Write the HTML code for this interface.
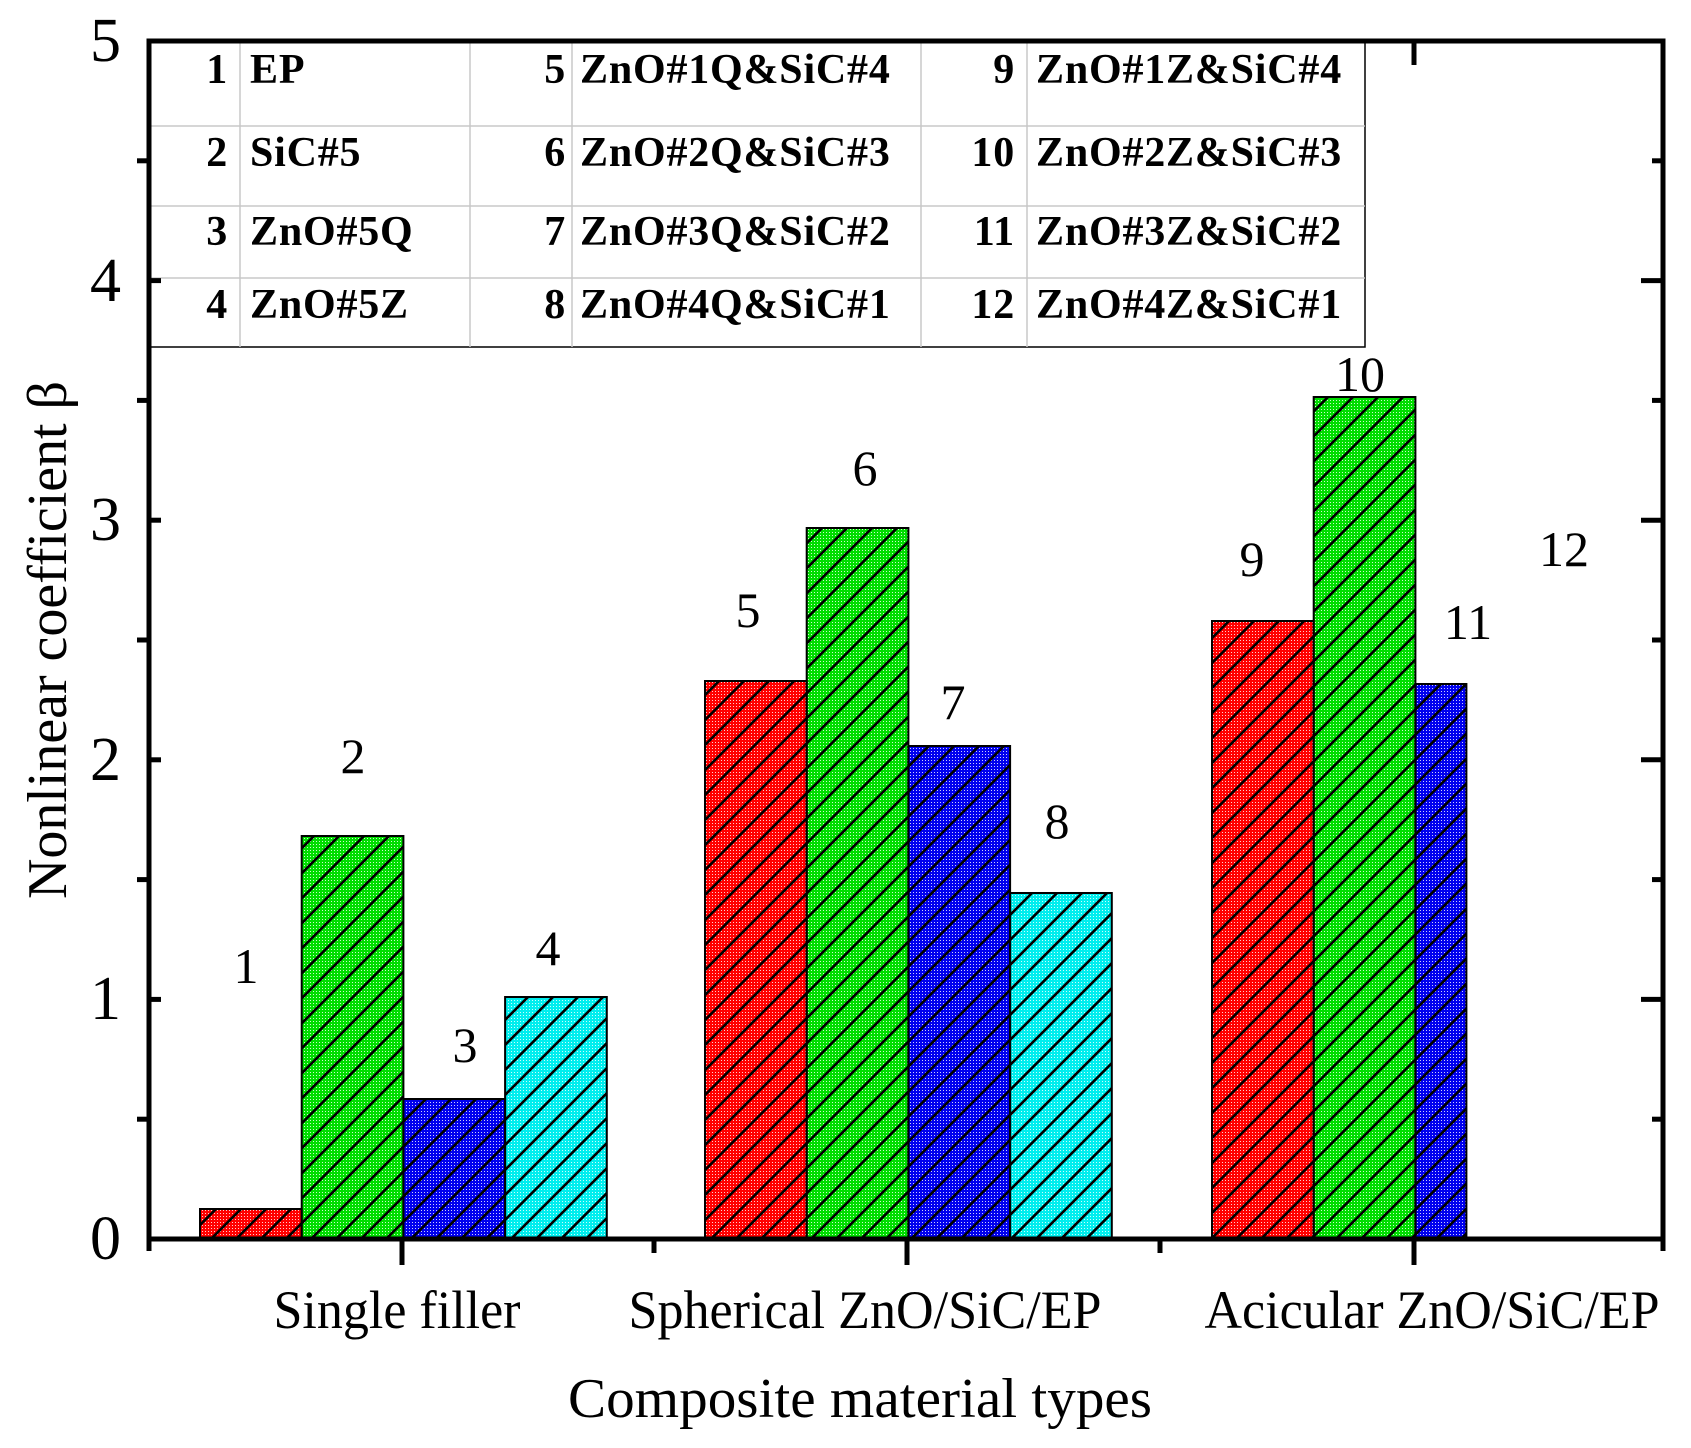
<!DOCTYPE html>
<html><head><meta charset="utf-8"><style>html,body{margin:0;padding:0;background:#fff}</style></head>
<body>
<svg width="1691" height="1443" viewBox="0 0 1691 1443" xmlns="http://www.w3.org/2000/svg" font-family="Liberation Serif, serif">
<defs>
<pattern id="dots" width="3" height="3" patternUnits="userSpaceOnUse"><rect x="1" y="1" width="1" height="1" fill="#fff" opacity="0.8"/></pattern>
<pattern id="hatch" width="25" height="25" patternUnits="userSpaceOnUse">
<path d="M-5,5 L5,-5 M0,25 L25,0 M20,30 L30,20" stroke="#000" stroke-width="2.6"/>
</pattern>
</defs>
<g>
<rect x="200" y="1209" width="101.7" height="30" fill="#f00"/>
<rect x="301.7" y="836" width="101.7" height="403" fill="#0d0"/>
<rect x="403.4" y="1099" width="101.7" height="140" fill="#00e"/>
<rect x="505.1" y="997" width="101.7" height="242" fill="#0ee"/>
<rect x="705" y="681" width="101.7" height="558" fill="#f00"/>
<rect x="806.7" y="528" width="101.7" height="711" fill="#0d0"/>
<rect x="908.4" y="746" width="101.7" height="493" fill="#00e"/>
<rect x="1010.1" y="893" width="101.7" height="346" fill="#0ee"/>
<rect x="1212" y="621" width="101.7" height="618" fill="#f00"/>
<rect x="1313.7" y="397" width="101.7" height="842" fill="#0d0"/>
<rect x="1415.4" y="684" width="51" height="555" fill="#00e"/>
</g>
<g fill="url(#dots)">
<rect x="200" y="1209" width="101.7" height="30"/>
<rect x="301.7" y="836" width="101.7" height="403"/>
<rect x="403.4" y="1099" width="101.7" height="140"/>
<rect x="505.1" y="997" width="101.7" height="242"/>
<rect x="705" y="681" width="101.7" height="558"/>
<rect x="806.7" y="528" width="101.7" height="711"/>
<rect x="908.4" y="746" width="101.7" height="493"/>
<rect x="1010.1" y="893" width="101.7" height="346"/>
<rect x="1212" y="621" width="101.7" height="618"/>
<rect x="1313.7" y="397" width="101.7" height="842"/>
<rect x="1415.4" y="684" width="51" height="555"/>
</g>
<g fill="url(#hatch)" stroke="#000" stroke-width="2">
<rect x="200" y="1209" width="101.7" height="30"/>
<rect x="301.7" y="836" width="101.7" height="403"/>
<rect x="403.4" y="1099" width="101.7" height="140"/>
<rect x="505.1" y="997" width="101.7" height="242"/>
<rect x="705" y="681" width="101.7" height="558"/>
<rect x="806.7" y="528" width="101.7" height="711"/>
<rect x="908.4" y="746" width="101.7" height="493"/>
<rect x="1010.1" y="893" width="101.7" height="346"/>
<rect x="1212" y="621" width="101.7" height="618"/>
<rect x="1313.7" y="397" width="101.7" height="842"/>
<rect x="1415.4" y="684" width="51" height="555"/>
</g>
<rect x="149" y="41" width="1216" height="306" fill="#fff" stroke="#000" stroke-width="1.5"/>
<g stroke="#c8c8c8" stroke-width="1.5">
<line x1="149" y1="126" x2="1365" y2="126"/><line x1="149" y1="206" x2="1365" y2="206"/><line x1="149" y1="278" x2="1365" y2="278"/>
<line x1="240" y1="41" x2="240" y2="347"/><line x1="470" y1="41" x2="470" y2="347"/><line x1="572" y1="41" x2="572" y2="347"/><line x1="921" y1="41" x2="921" y2="347"/><line x1="1027" y1="41" x2="1027" y2="347"/>
</g>
<g font-weight="bold" font-size="42" dominant-baseline="central" letter-spacing="0.8">
<g text-anchor="end">
<text x="228" y="70">1</text><text x="228" y="153">2</text><text x="228" y="232">3</text><text x="228" y="305">4</text>
<text x="566" y="70">5</text><text x="566" y="153">6</text><text x="566" y="232">7</text><text x="566" y="305">8</text>
<text x="1015" y="70">9</text><text x="1015" y="153">10</text><text x="1015" y="232">11</text><text x="1015" y="305">12</text>
</g>
<text x="250" y="70">EP</text><text x="250" y="153">SiC#5</text><text x="250" y="232">ZnO#5Q</text><text x="250" y="305">ZnO#5Z</text>
<text x="580" y="70">ZnO#1Q&amp;SiC#4</text><text x="580" y="153">ZnO#2Q&amp;SiC#3</text><text x="580" y="232">ZnO#3Q&amp;SiC#2</text><text x="580" y="305">ZnO#4Q&amp;SiC#1</text>
<text x="1036" y="70">ZnO#1Z&amp;SiC#4</text><text x="1036" y="153">ZnO#2Z&amp;SiC#3</text><text x="1036" y="232">ZnO#3Z&amp;SiC#2</text><text x="1036" y="305">ZnO#4Z&amp;SiC#1</text>
</g>
<rect x="149" y="41" width="1514" height="1198" fill="none" stroke="#000" stroke-width="5"/>
<g stroke="#000" stroke-width="5">
<line x1="149" y1="1239" x2="161" y2="1239"/><line x1="149" y1="999.4" x2="161" y2="999.4"/><line x1="149" y1="759.8" x2="161" y2="759.8"/><line x1="149" y1="520.2" x2="161" y2="520.2"/><line x1="149" y1="280.6" x2="161" y2="280.6"/>
<line x1="137" y1="1119.2" x2="149" y2="1119.2"/><line x1="137" y1="879.6" x2="149" y2="879.6"/><line x1="137" y1="640" x2="149" y2="640"/><line x1="137" y1="400.4" x2="149" y2="400.4"/><line x1="137" y1="160.8" x2="149" y2="160.8"/>
<line x1="1641" y1="999.4" x2="1663" y2="999.4"/><line x1="1641" y1="759.8" x2="1663" y2="759.8"/><line x1="1641" y1="520.2" x2="1663" y2="520.2"/><line x1="1641" y1="280.6" x2="1663" y2="280.6"/>
<line x1="1652" y1="1119.2" x2="1663" y2="1119.2"/><line x1="1652" y1="879.6" x2="1663" y2="879.6"/><line x1="1652" y1="640" x2="1663" y2="640"/><line x1="1652" y1="400.4" x2="1663" y2="400.4"/><line x1="1652" y1="160.8" x2="1663" y2="160.8"/>
<line x1="149" y1="1239" x2="149" y2="1251"/><line x1="402" y1="1239" x2="402" y2="1265"/><line x1="654" y1="1239" x2="654" y2="1253"/><line x1="907" y1="1239" x2="907" y2="1265"/><line x1="1160" y1="1239" x2="1160" y2="1253"/><line x1="1414" y1="1239" x2="1414" y2="1265"/><line x1="1663" y1="1239" x2="1663" y2="1251"/>
<line x1="1414" y1="41" x2="1414" y2="65"/>
</g>
<g font-size="62" text-anchor="end" dominant-baseline="central">
<text x="121" y="1239">0</text><text x="121" y="999">1</text><text x="121" y="760">2</text><text x="121" y="520">3</text><text x="121" y="281">4</text><text x="121" y="41">5</text>
</g>
<g font-size="50" text-anchor="middle" dominant-baseline="central">
<text x="246" y="966">1</text><text x="353" y="756">2</text><text x="465" y="1045">3</text><text x="548" y="948">4</text>
<text x="748" y="610">5</text><text x="865" y="468">6</text><text x="953" y="702">7</text><text x="1057" y="821">8</text>
<text x="1252" y="559">9</text><text x="1360" y="374">10</text><text x="1468" y="622">11</text><text x="1564" y="549">12</text>
</g>
<g font-size="54" text-anchor="middle" dominant-baseline="central">
<text x="397" y="1310" textLength="247" lengthAdjust="spacingAndGlyphs">Single filler</text>
<text x="865" y="1310" textLength="473" lengthAdjust="spacingAndGlyphs">Spherical ZnO/SiC/EP</text>
<text x="1432" y="1310" textLength="455" lengthAdjust="spacingAndGlyphs">Acicular ZnO/SiC/EP</text>
<text x="860" y="1399" font-size="56" textLength="584" lengthAdjust="spacingAndGlyphs">Composite material types</text>
<text transform="translate(48,640) rotate(-90)" font-size="56" textLength="518" lengthAdjust="spacingAndGlyphs">Nonlinear coefficient β</text>
</g>
</svg>
</body></html>
